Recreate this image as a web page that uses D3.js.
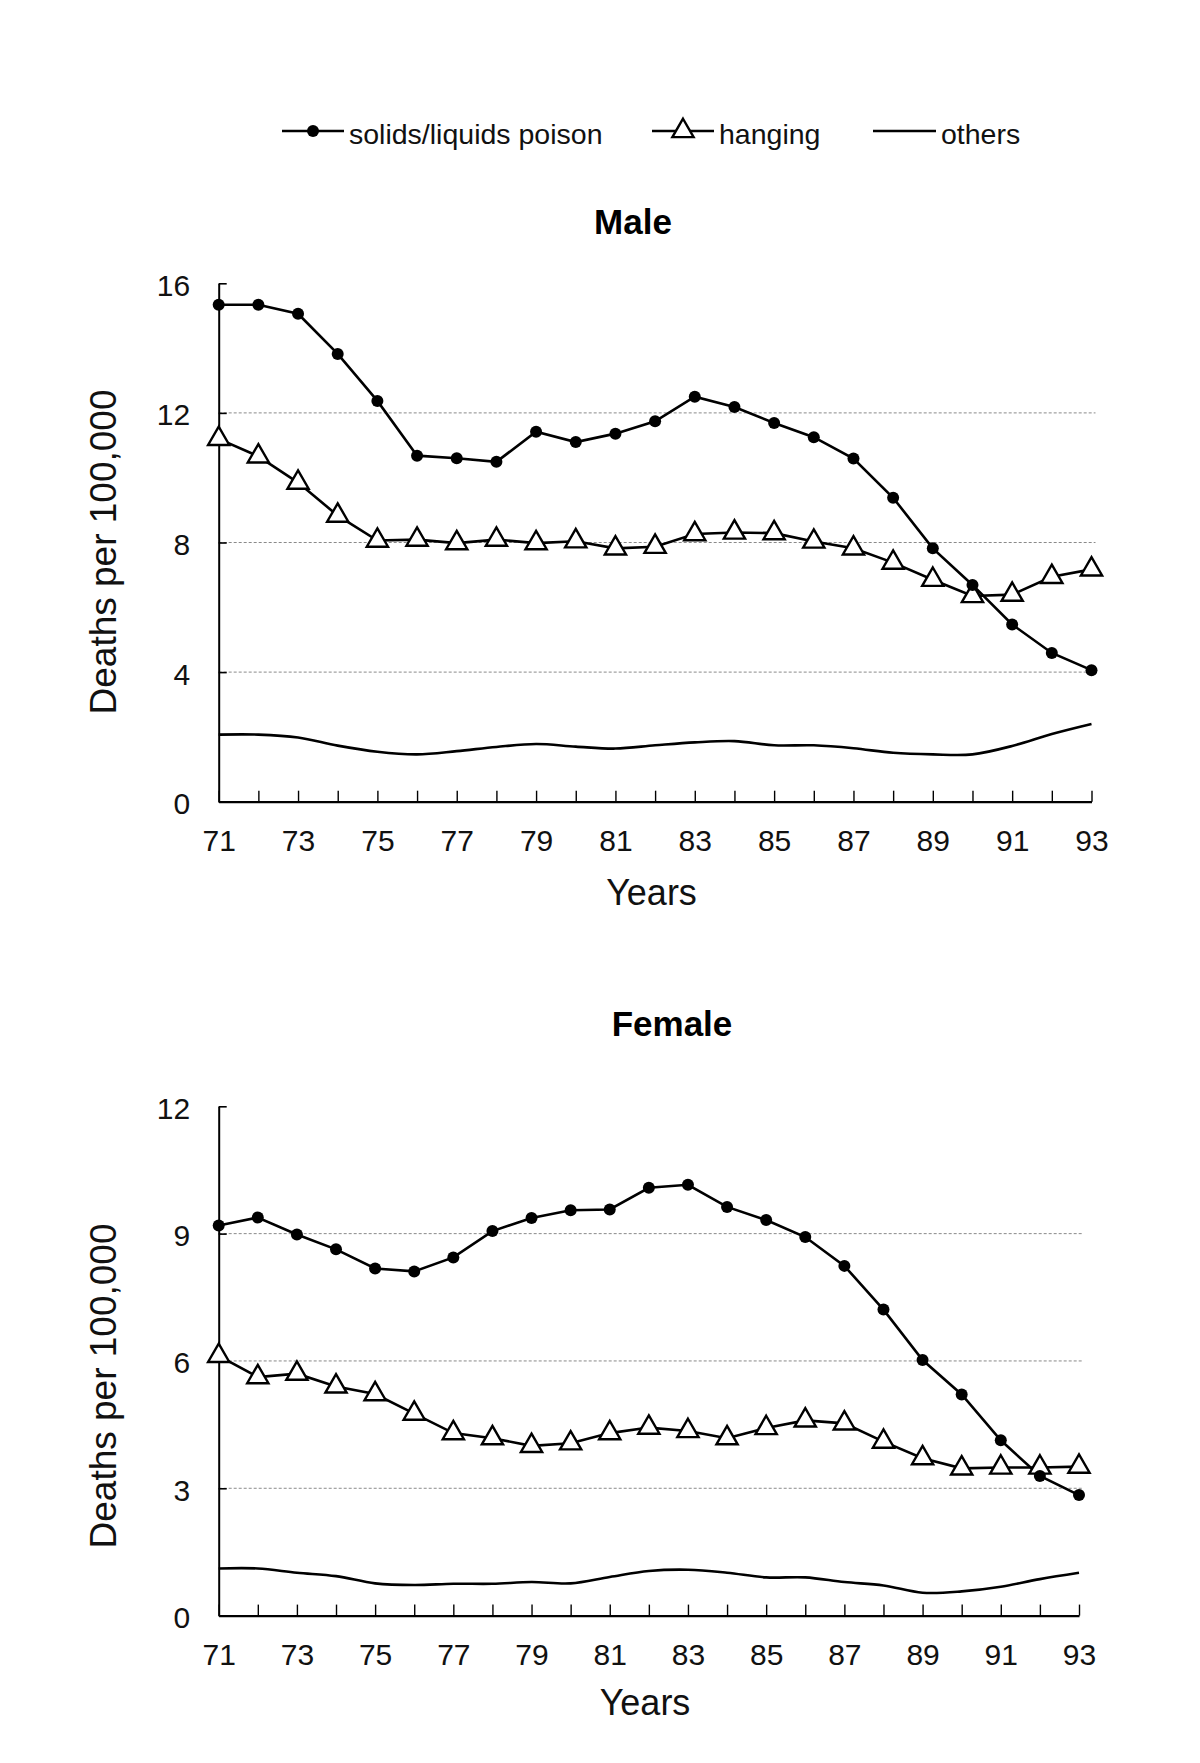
<!DOCTYPE html>
<html>
<head>
<meta charset="utf-8">
<script src="https://cdn.jsdelivr.net/npm/d3@7"></script>
<style>
  html, body { margin: 0; padding: 0; background: #fff; }
  svg { display: block; font-family: "Liberation Sans", Arial, Helvetica, sans-serif; }
</style>
</head>
<body>
<svg id="chart" width="1200" height="1763"></svg>
<script>
// ---- data ----
const years = [71,72,73,74,75,76,77,78,79,80,81,82,83,84,85,86,87,88,89,90,91,92,93];
const seriesNames = ["solids/liquids poison", "hanging", "others"];

const malePoison  = [15.34,15.34,15.06,13.82,12.37,10.68,10.60,10.49,11.42,11.10,11.36,11.74,12.50,12.18,11.69,11.25,10.59,9.38,7.82,6.69,5.47,4.59,4.06];
const maleHanging = [11.2,10.66,9.85,8.83,8.06,8.09,7.98,8.09,7.98,8.04,7.82,7.87,8.26,8.31,8.29,8.03,7.82,7.38,6.85,6.35,6.39,6.94,7.17];
const maleOthers  = [2.07,2.07,1.98,1.73,1.54,1.46,1.56,1.69,1.78,1.70,1.64,1.74,1.83,1.87,1.74,1.74,1.65,1.51,1.46,1.46,1.72,2.09,2.40];

const femalePoison  = [9.19,9.38,8.98,8.63,8.18,8.11,8.44,9.06,9.37,9.55,9.57,10.08,10.15,9.63,9.32,8.92,8.24,7.21,6.02,5.21,4.13,3.29,2.84];
const femaleHanging = [6.12,5.62,5.70,5.40,5.22,4.76,4.30,4.18,4.00,4.06,4.30,4.43,4.35,4.18,4.42,4.60,4.53,4.10,3.71,3.47,3.49,3.49,3.51];
const femaleOthers  = [1.11,1.11,1.01,0.93,0.76,0.72,0.75,0.75,0.79,0.76,0.91,1.05,1.08,1.01,0.90,0.90,0.79,0.71,0.54,0.57,0.68,0.86,1.01];

const maleTicksY   = [0,4,8,12,16];
const femaleTicksY = [0,3,6,9,12];
const xLabelYears  = [71,73,75,77,79,81,83,85,87,89,91,93];

const panelTitles = ["Male", "Female"];
const yAxisTitle = "Deaths per 100,000";
const xAxisTitle = "Years";

// ---- drawing ----
const svg = d3.select("#chart");
const FONT = '"Liberation Sans", Arial, Helvetica, sans-serif';

const triangle = d3.symbol().type(d3.symbolTriangle).size(195);

function drawPanel(cfg) {
  const x = d3.scaleLinear().domain([71, 93]).range([cfg.x0, cfg.x1]);
  const y = d3.scaleLinear().domain([0, cfg.yMax]).range([cfg.yBottom, cfg.yTop]);
  const g = svg.append("g");

  // grid lines
  g.append("g").selectAll("line")
    .data(cfg.yTicks.filter(v => v > 0 && v < cfg.yMax))
    .join("line")
    .attr("x1", cfg.x0).attr("x2", cfg.x1 + 4)
    .attr("y1", d => y(d)).attr("y2", d => y(d))
    .attr("stroke", "#8a8a8a").attr("stroke-width", 1)
    .attr("stroke-dasharray", "3,2");

  // x axis
  const xAxis = d3.axisBottom(x)
    .tickValues(years)
    .tickSizeInner(-11).tickSizeOuter(0)
    .tickPadding(28)
    .tickFormat(d => xLabelYears.includes(d) ? String(d) : "");
  const gx = g.append("g").attr("transform", `translate(0,${cfg.yBottom})`).call(xAxis);
  gx.select(".domain").attr("stroke", "#000").attr("stroke-width", 2.2);
  gx.selectAll(".tick line").attr("stroke", "#000").attr("stroke-width", 1.4);
  gx.selectAll(".tick text").attr("font-size", 30).attr("font-family", FONT).attr("fill", "#111");

  // y axis
  const yAxis = d3.axisLeft(y)
    .tickValues(cfg.yTicks)
    .tickSizeInner(-8).tickSizeOuter(0)
    .tickPadding(28.5)
    .tickFormat(d3.format("d"));
  const gy = g.append("g").attr("transform", `translate(${cfg.x0},0)`).call(yAxis);
  gy.select(".domain").attr("stroke", "#000").attr("stroke-width", 2);
  gy.selectAll(".tick line").attr("stroke", "#000").attr("stroke-width", 1.6);
  gy.selectAll(".tick text").attr("font-size", 30).attr("font-family", FONT).attr("fill", "#111")
    .attr("dy", "0.4em");

  // lines
  const lineStraight = d3.line().x((d, i) => x(years[i])).y(d => y(d));
  const lineSmooth = d3.line().x((d, i) => x(years[i])).y(d => y(d)).curve(d3.curveCardinal.tension(0));

  g.append("path").datum(cfg.others).attr("d", lineSmooth)
    .attr("fill", "none").attr("stroke", "#000").attr("stroke-width", 2.6);
  g.append("path").datum(cfg.hanging).attr("d", lineStraight)
    .attr("fill", "none").attr("stroke", "#000").attr("stroke-width", 2.6);
  g.append("path").datum(cfg.poison).attr("d", lineStraight)
    .attr("fill", "none").attr("stroke", "#000").attr("stroke-width", 2.6);

  // markers
  g.append("g").selectAll("path")
    .data(cfg.hanging)
    .join("path")
    .attr("d", triangle)
    .attr("transform", (d, i) => `translate(${x(years[i])},${y(d)})`)
    .attr("fill", "#fff").attr("stroke", "#000").attr("stroke-width", 2.4);
  g.append("g").selectAll("circle")
    .data(cfg.poison)
    .join("circle")
    .attr("cx", (d, i) => x(years[i])).attr("cy", d => y(d))
    .attr("r", 6).attr("fill", "#000");

  // titles
  svg.append("text").attr("x", cfg.titleX).attr("y", cfg.titleY)
    .attr("text-anchor", "middle").attr("font-size", 35).attr("font-weight", "bold")
    .attr("font-family", FONT).attr("fill", "#000").text(cfg.title);
  svg.append("text").attr("x", cfg.xTitleX).attr("y", cfg.xTitleY)
    .attr("text-anchor", "middle").attr("font-size", 36)
    .attr("font-family", FONT).attr("fill", "#111").text(xAxisTitle);
  svg.append("text")
    .attr("transform", `translate(${cfg.yTitleX},${cfg.yTitleY}) rotate(-90)`)
    .attr("text-anchor", "middle").attr("font-size", 37)
    .attr("font-family", FONT).attr("fill", "#111").text(yAxisTitle);
}

drawPanel({
  title: panelTitles[0], titleX: 633, titleY: 234,
  x0: 218.7, x1: 1091.5, yTop: 283.3, yBottom: 801.7, yMax: 16,
  yTicks: maleTicksY,
  poison: malePoison, hanging: maleHanging, others: maleOthers,
  xTitleX: 651.5, xTitleY: 905, yTitleX: 116, yTitleY: 552
});

drawPanel({
  title: panelTitles[1], titleX: 672, titleY: 1036,
  x0: 218.7, x1: 1079, yTop: 1106.3, yBottom: 1615.6, yMax: 12,
  yTicks: femaleTicksY,
  poison: femalePoison, hanging: femaleHanging, others: femaleOthers,
  xTitleX: 645, xTitleY: 1715, yTitleX: 116, yTitleY: 1386
});

// ---- legend ----
const legendItems = [
  { name: seriesNames[0], lx0: 282, lx1: 344, textX: 349, marker: "dot" },
  { name: seriesNames[1], lx0: 652, lx1: 714, textX: 719, marker: "tri" },
  { name: seriesNames[2], lx0: 873, lx1: 936, textX: 941, marker: "none" }
];
const legY = 131;
const lg = svg.append("g");
legendItems.forEach(it => {
  lg.append("line").attr("x1", it.lx0).attr("x2", it.lx1).attr("y1", legY).attr("y2", legY)
    .attr("stroke", "#000").attr("stroke-width", 2.6);
  const cx = (it.lx0 + it.lx1) / 2;
  if (it.marker === "dot") {
    lg.append("circle").attr("cx", cx).attr("cy", legY).attr("r", 6).attr("fill", "#000");
  } else if (it.marker === "tri") {
    lg.append("path").attr("d", triangle).attr("transform", `translate(${cx},${legY})`)
      .attr("fill", "#fff").attr("stroke", "#000").attr("stroke-width", 2.4);
  }
  lg.append("text").attr("x", it.textX).attr("y", 144)
    .attr("font-size", 28.5).attr("font-family", FONT).attr("fill", "#111").text(it.name);
});
</script>
</body>
</html>
